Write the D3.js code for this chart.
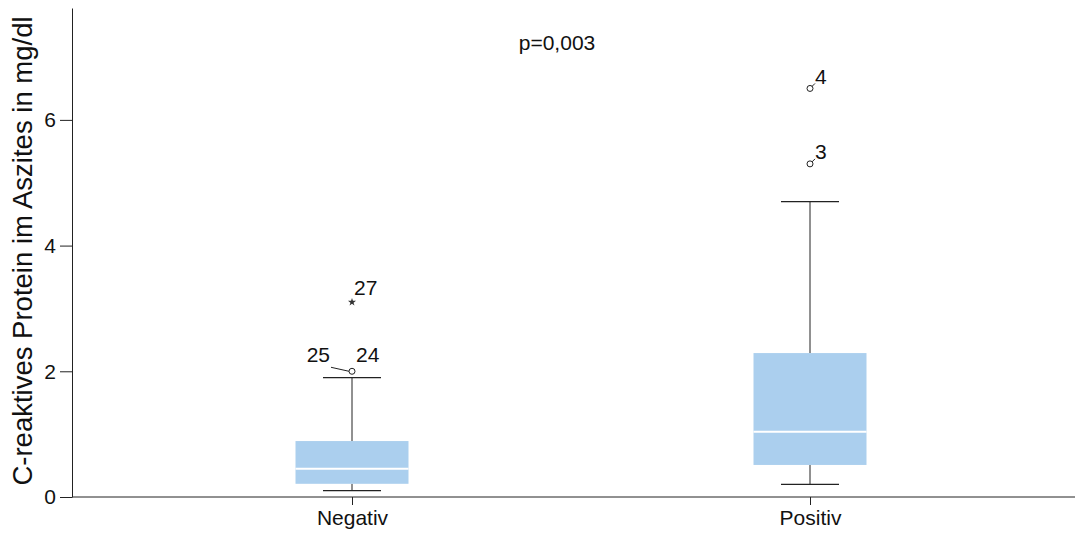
<!DOCTYPE html>
<html>
<head>
<meta charset="utf-8">
<script src="https://cdn.jsdelivr.net/npm/d3@7"></script>
<style>
  body { margin: 0; background: #fff; }
  text { font-family: "Liberation Sans", Arial, sans-serif; fill: #111; }
</style>
</head>
<body>
<div id="chart"></div>
<script>
// categories and box statistics
const groups = ['Negativ', 'Positiv'];
const whiskerLow = [0.1, 0.2];
const q1 = [0.21, 0.51];
const medians = [0.45, 1.04];
const q3 = [0.89, 2.29];
const whiskerHigh = [1.9, 4.7];

// outliers: group, value, case label, kind
const outlierGroup = ['Negativ', 'Negativ', 'Positiv', 'Positiv'];
const outlierValue = [2.0, 3.1, 5.3, 6.5];
const outlierLabel = ['24', '27', '3', '4'];
const outlierKind = ['circle', 'star', 'circle', 'circle'];

const yTicks = [0, 2, 4, 6];
const pText = 'p=0,003';

const width = 1086;
const height = 533;
const margin = { top: 8, right: 11, bottom: 36, left: 72 };
const fs = '21px';

const svg = d3.select('#chart').append('svg')
  .attr('width', width)
  .attr('height', height);

const y = d3.scaleLinear()
  .domain([0, 7.78])
  .range([height - margin.bottom, margin.top]);

const x = d3.scalePoint()
  .domain(groups)
  .range([352, 810]);

const boxW = 113;
const capW = 58;

// axes
const yAxis = svg.append('g')
  .attr('transform', `translate(${margin.left},0)`)
  .call(d3.axisLeft(y).tickValues(yTicks).tickSize(12).tickPadding(4).tickSizeOuter(0));
yAxis.select('.domain').attr('stroke', '#222');
yAxis.selectAll('.tick line').attr('stroke', '#222');
yAxis.selectAll('text').style('font-size', fs);

const xAxis = svg.append('g')
  .attr('transform', `translate(0,${height - margin.bottom})`)
  .call(d3.axisBottom(x).tickSize(8).tickPadding(5).tickSizeOuter(0));
xAxis.select('.domain').remove();
xAxis.selectAll('.tick line').attr('stroke', '#222');
xAxis.selectAll('text').style('font-size', fs);
svg.append('line')
  .attr('x1', margin.left).attr('x2', width - margin.right)
  .attr('y1', y(0)).attr('y2', y(0))
  .attr('stroke', '#222');

// y title
svg.append('text')
  .attr('transform', 'translate(32,251) rotate(-90)')
  .attr('text-anchor', 'middle')
  .style('font-size', '27.5px')
  .text('C-reaktives Protein im Aszites in mg/dl');

// p value
svg.append('text')
  .attr('x', 557).attr('y', 50)
  .attr('text-anchor', 'middle')
  .style('font-size', fs)
  .text(pText);

// boxes
const boxes = svg.append('g');
groups.forEach((g, i) => {
  const cx = x(g);
  boxes.append('line')
    .attr('x1', cx).attr('x2', cx)
    .attr('y1', y(whiskerLow[i])).attr('y2', y(q1[i]))
    .attr('stroke', '#222');
  boxes.append('line')
    .attr('x1', cx).attr('x2', cx)
    .attr('y1', y(q3[i])).attr('y2', y(whiskerHigh[i]))
    .attr('stroke', '#222');
  [whiskerLow[i], whiskerHigh[i]].forEach((v) => {
    boxes.append('line')
      .attr('x1', cx - capW / 2).attr('x2', cx + capW / 2)
      .attr('y1', y(v)).attr('y2', y(v))
      .attr('stroke', '#222').attr('stroke-width', 1.3);
  });
  boxes.append('rect')
    .attr('x', cx - boxW / 2)
    .attr('width', boxW)
    .attr('y', y(q3[i]))
    .attr('height', y(q1[i]) - y(q3[i]))
    .attr('fill', '#abcfee');
  boxes.append('line')
    .attr('x1', cx - boxW / 2).attr('x2', cx + boxW / 2)
    .attr('y1', y(medians[i])).attr('y2', y(medians[i]))
    .attr('stroke', '#fff').attr('stroke-width', 2);
});

// outliers
const outs = svg.append('g');
outlierValue.forEach((v, i) => {
  const cx = x(outlierGroup[i]);
  const cy = y(v);
  if (outlierKind[i] === 'circle') {
    outs.append('circle')
      .attr('cx', cx).attr('cy', cy).attr('r', 3)
      .attr('fill', '#fff').attr('stroke', '#222');
  } else {
    outs.append('path')
      .attr('d', d3.symbol(d3.symbolStar, 20)())
      .attr('transform', `translate(${cx},${cy})`)
      .attr('fill', '#333');
  }
  const short = outlierLabel[i].length === 1;
  const isStar = outlierKind[i] === 'star';
  outs.append('text')
    .attr('x', cx + (short ? 5 : isStar ? 2 : 4))
    .attr('y', cy - (short ? 4.5 : isStar ? 7.5 : 9.5))
    .style('font-size', fs)
    .text(outlierLabel[i]);
  if (short) {
    outs.append('line')
      .attr('x1', cx + 2).attr('y1', cy - 2)
      .attr('x2', cx + 5).attr('y2', cy - 5)
      .attr('stroke', '#222');
  }
});

// second case label at the same point (25), with leader line
const p25 = [x('Negativ'), y(2.0)];
outs.append('line')
  .attr('x1', p25[0] - 21).attr('y1', p25[1] - 4)
  .attr('x2', p25[0] - 3).attr('y2', p25[1])
  .attr('stroke', '#222');
outs.append('text')
  .attr('x', p25[0] - 22).attr('y', p25[1] - 9.5)
  .attr('text-anchor', 'end')
  .style('font-size', fs)
  .text('25');
</script>
</body>
</html>
